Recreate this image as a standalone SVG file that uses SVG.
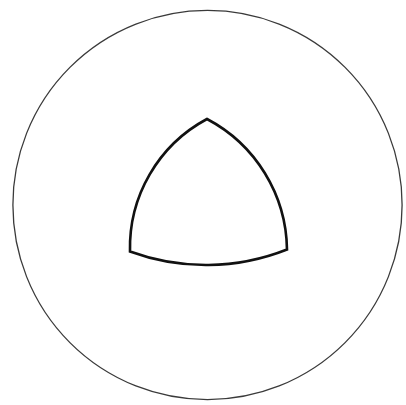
<svg xmlns="http://www.w3.org/2000/svg" width="406" height="405" viewBox="0 0 406 405">
<style>
.outer{fill:none;stroke:#3a3a3a;stroke-width:1.3}
.reuleaux{fill:none;stroke:#111;stroke-width:2.6;stroke-linejoin:miter}
</style>
<rect width="406" height="405" fill="#fff"/>
<g id="circle"><circle class="outer" cx="207.5" cy="205" r="194.6"/></g>
<g id="triangle"><path class="reuleaux" d="M207,119 A150,150 0 0 1 287,249.5 A220,220 0 0 1 130,251.5 A146,146 0 0 1 207,119 Z"/></g>
</svg>
